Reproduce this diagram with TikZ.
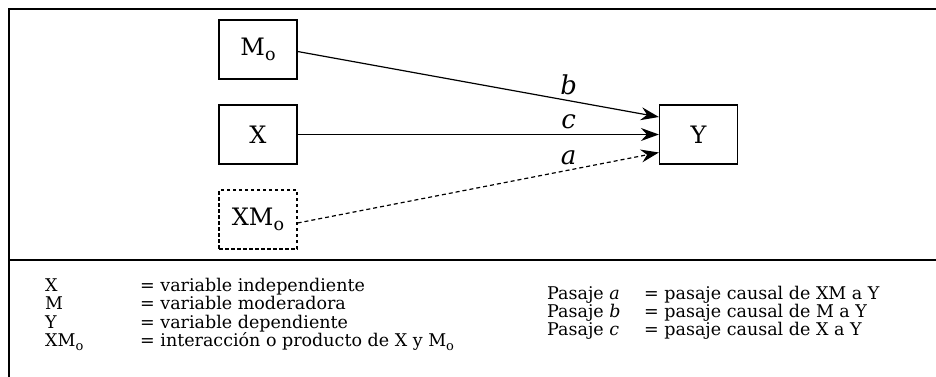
\documentclass[tikz,border=0pt]{standalone}
\usepackage{fontspec}
\setmainfont{DejaVu Serif}
\usetikzlibrary{arrows.meta,calc}
\newcommand\boxsub[1]{\raisebox{-5.5pt}{\fontsize{17.5}{20}\selectfont #1}}
\newcommand\legsub[1]{\raisebox{-4pt}{\fontsize{13}{16}\selectfont #1}}
\begin{document}
\begin{tikzpicture}[x=1pt,y=-1pt,
  varbox/.style={draw, line width=1.2pt, minimum width=78pt, minimum height=59pt, inner sep=0pt, font=\fontsize{24}{28}\selectfont},
  dashbox/.style={varbox, dash pattern=on 3.5pt off 2.5pt},
  causal/.style={line width=1.2pt, -{Stealth[length=18pt,width=13pt,inset=6pt]}},
  lbl/.style={font=\fontsize{26}{30}\selectfont\itshape, inner sep=0pt, anchor=base, yshift=6pt},
  leg/.style={font=\fontsize{17.5}{21}\selectfont, inner sep=0pt, anchor=base west},
  framerule/.style={line width=2pt}
]
\useasboundingbox (0,0) rectangle (936,377);
% frame
\draw[framerule] (936,9) -- (9,9) -- (9,377);
\draw[framerule] (9,260) -- (936,260);
% nodes
\node[varbox] (M) at (258,49.5) {M\boxsub{o}};
\node[varbox] (X) at (258,134.5) {X};
\node[dashbox] (XM) at (258,219.5) {XM\boxsub{o}};
\node[varbox] (Y) at (698.5,134.5) {Y};
% connectors
\draw[causal] ($(M.east)+(0,2)$) -- node[lbl, pos=0.75] {b} ($(Y.west)+(0,-17.5)$);
\draw[causal] (X.east) -- node[lbl, pos=0.75] {c} (Y.west);
\draw[causal, dash pattern=on 4pt off 3pt] ($(XM.east)+(0,3.5)$) -- node[lbl, pos=0.75] {a} ($(Y.west)+(0,18)$);
% legend left
\node[leg] (l1) at (45,291) {X};
\node[leg] (d1) at (140,291) {= variable independiente};
\node[leg] (l2) at (45,309.5) {M};
\node[leg] (d2) at (140,309.5) {= variable moderadora};
\node[leg] (l3) at (45,328) {Y};
\node[leg] (d3) at (140,328) {= variable dependiente};
\node[leg] (l4) at (45,346.5) {XM\legsub{o}};
\node[leg] (d4) at (140,346.5) {= interacción o producto de X y M\legsub{o}};
% legend right
\node[leg] (p1) at (547,299) {Pasaje \textit{a}};
\node[leg] (e1) at (644,299) {= pasaje causal de XM a Y};
\node[leg] (p2) at (547,317) {Pasaje \textit{b}};
\node[leg] (e2) at (644,317) {= pasaje causal de M a Y};
\node[leg] (p3) at (547,335) {Pasaje \textit{c}};
\node[leg] (e3) at (644,335) {= pasaje causal de X a Y};
\end{tikzpicture}
\end{document}
